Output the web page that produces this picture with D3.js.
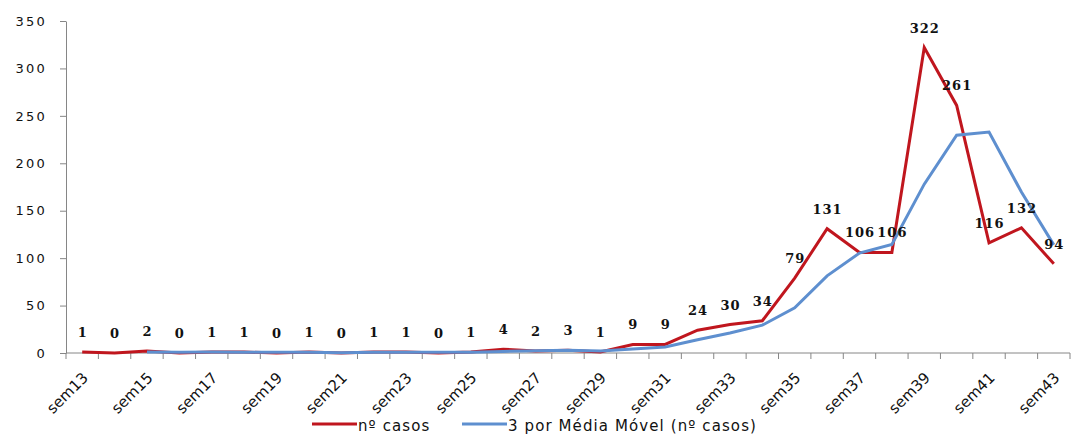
<!DOCTYPE html>
<html>
<head>
<meta charset="utf-8">
<script src="https://cdn.jsdelivr.net/npm/d3@7"></script>
<style>
  html, body { margin: 0; padding: 0; background: #fff; }
  svg { display: block; }
</style>
</head>
<body>
<svg id="chart" width="1076" height="435"></svg>
<script>
// Weekly case counts, sem13 .. sem43
const weeks = ["sem13","sem14","sem15","sem16","sem17","sem18","sem19","sem20","sem21","sem22",
  "sem23","sem24","sem25","sem26","sem27","sem28","sem29","sem30","sem31","sem32",
  "sem33","sem34","sem35","sem36","sem37","sem38","sem39","sem40","sem41","sem42","sem43"];
const cases = [1,0,2,0,1,1,0,1,0,1,1,0,1,4,2,3,1,9,9,24,30,34,79,131,106,106,322,261,116,132,94];
// 3-period moving average (first two weeks have no value)
const movingAvg = [null,null,1,0.67,1,0.67,0.67,0.67,0.33,0.67,0.67,0.67,0.67,1.67,2.33,3,2,4.33,6.33,
  14,21,29.33,47.67,81.33,105.33,114.33,178,229.67,233,169.67,114];
const yTicks = [0,50,100,150,200,250,300,350];
const legendLabels = ["nº casos", "3 por Média Móvel (nº casos)"];

const svg = d3.select("#chart");
const plotLeft = 66, plotRight = 1070, plotTop = 21, plotBottom = 353;

const x = d3.scaleBand().domain(weeks).range([plotLeft, plotRight]).padding(0);
const y = d3.scaleLinear().domain([0, 350]).range([plotBottom, plotTop]);
const cx = d => x(d) + x.bandwidth() / 2;

const axisColor = "#868686";
const textColor = "#111";

// Y axis
const yAxis = svg.append("g").attr("transform", `translate(${plotLeft},0)`)
  .call(d3.axisLeft(y).tickValues(yTicks).tickSize(6).tickSizeOuter(0).tickPadding(13));
yAxis.select(".domain").attr("stroke", axisColor).attr("stroke-width", 1);
yAxis.selectAll(".tick line").attr("stroke", axisColor);
yAxis.selectAll(".tick text")
  .attr("font-family", "DejaVu Sans, sans-serif").attr("font-size", 13)
  .attr("letter-spacing", "2.2px").attr("fill", textColor);

// X axis: ticks on category boundaries
const boundaries = d3.range(weeks.length + 1).map(i => plotLeft + i * x.bandwidth());
const xg = svg.append("g");
xg.append("line").attr("x1", plotLeft).attr("x2", plotRight).attr("y1", plotBottom).attr("y2", plotBottom)
  .attr("stroke", axisColor);
xg.selectAll("line.tk").data(boundaries).enter().append("line").attr("class", "tk")
  .attr("x1", d => d).attr("x2", d => d).attr("y1", plotBottom).attr("y2", plotBottom + 6)
  .attr("stroke", axisColor);
xg.selectAll("text").data(weeks.filter((d, i) => i % 2 === 0)).enter().append("text")
  .attr("transform", d => `translate(${cx(d) + 3},${plotBottom + 22}) rotate(-45)`)
  .attr("text-anchor", "end").attr("dy", "0.35em")
  .attr("font-family", "DejaVu Sans, sans-serif").attr("font-size", 15)
  .attr("fill", textColor).text(d => d);

// Lines
const red = "#c0161e", blue = "#5e8fcf";
const lineCases = d3.line().x((d, i) => cx(weeks[i])).y(d => y(d));
svg.append("path").datum(cases).attr("d", lineCases)
  .attr("fill", "none").attr("stroke", red).attr("stroke-width", 3).attr("stroke-linejoin", "miter");

const lineAvg = d3.line().defined(d => d !== null).x((d, i) => cx(weeks[i])).y(d => y(d));
svg.append("path").datum(movingAvg).attr("d", lineAvg)
  .attr("fill", "none").attr("stroke", blue).attr("stroke-width", 3);

// Data labels
svg.append("g").selectAll("text").data(cases).enter().append("text")
  .attr("x", (d, i) => cx(weeks[i]) + 0.5)
  .attr("y", d => y(d) - 15)
  .attr("text-anchor", "middle")
  .attr("font-family", "DejaVu Serif, serif").attr("font-size", 13).attr("font-weight", "bold")
  .attr("letter-spacing", "1px").attr("fill", textColor)
  .text(d => d);

// Legend
const lg = svg.append("g").attr("font-family", "DejaVu Sans, sans-serif").attr("font-size", 15).attr("fill", textColor);
lg.append("line").attr("x1", 312).attr("x2", 357).attr("y1", 424).attr("y2", 424)
  .attr("stroke", red).attr("stroke-width", 3);
lg.append("text").attr("x", 358).attr("y", 431).attr("letter-spacing", "1.1px").text(legendLabels[0]);
lg.append("line").attr("x1", 462).attr("x2", 507).attr("y1", 424).attr("y2", 424)
  .attr("stroke", blue).attr("stroke-width", 3);
lg.append("text").attr("x", 508).attr("y", 431).attr("letter-spacing", "1.1px").text(legendLabels[1]);
</script>
</body>
</html>
